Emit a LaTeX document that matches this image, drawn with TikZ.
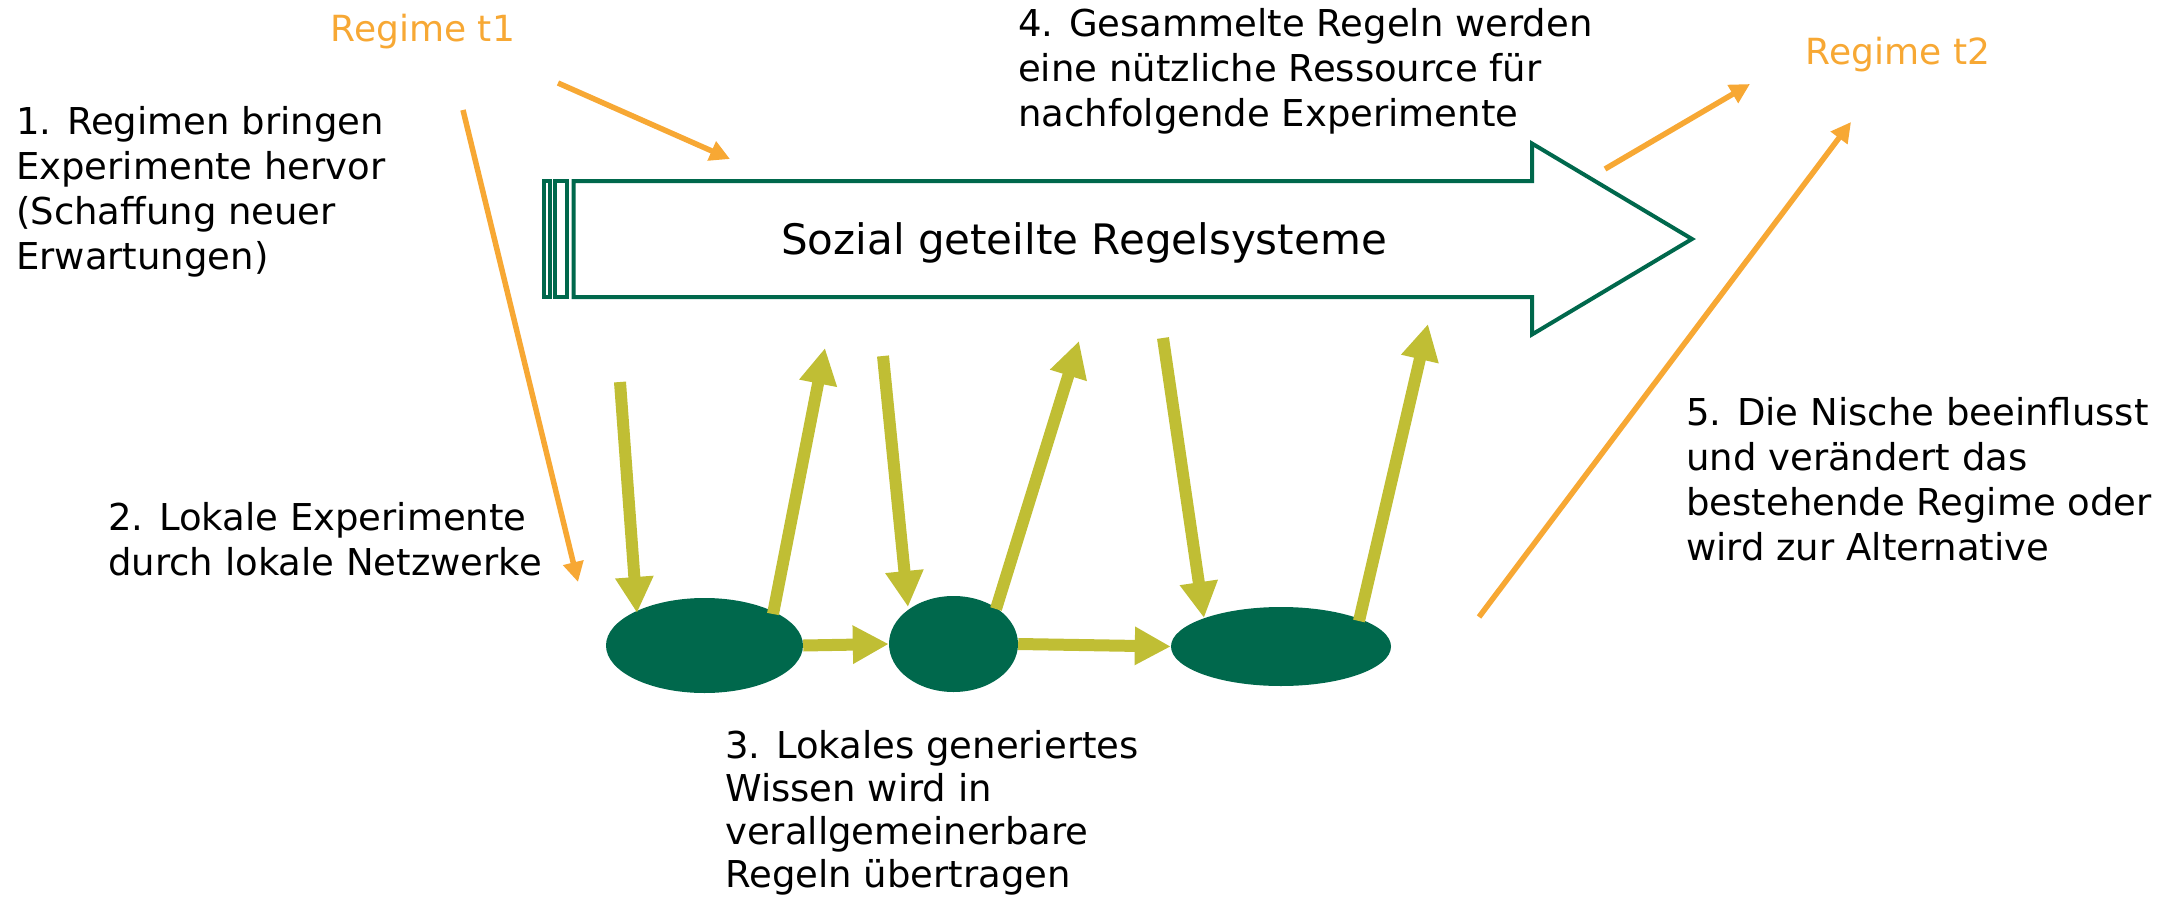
\documentclass[tikz,border=0pt]{standalone}
\usepackage{fontspec}
\setmainfont{DejaVu Sans}
\usetikzlibrary{arrows.meta,shapes.geometric}
\definecolor{dkgreen}{RGB}{0,104,76}
\definecolor{olive}{RGB}{192,190,52}
\definecolor{orng}{RGB}{247,168,52}
\tikzset{
  lbl/.style={anchor=north west,inner sep=0pt,align=left,font=\fontsize{37}{45}\selectfont,text=black},
  rlbl/.style={inner sep=0pt,font=\fontsize{36}{44}\selectfont,text=orng},
  blob/.style={ellipse,fill=dkgreen,draw=none,inner sep=0pt},
  oarr/.style={draw=orng,line width=5.5pt,-{Triangle[length=20pt,width=20pt]}},
  garr/.style={draw=olive,line width=12pt,-{Triangle[length=36pt,width=36pt]},shorten >=0pt},
  bigout/.style={draw=dkgreen,line width=4pt,line join=miter}
}
\begin{document}
\begin{tikzpicture}[x=1pt,y=-1pt]
\useasboundingbox (0,0) rectangle (2164,902);
% big arrow
\draw[bigout] (573.7,181) -- (1532,181) -- (1532,143.5) -- (1692,239) -- (1532,334.5) -- (1532,297) -- (573.7,297) -- cycle;
\draw[bigout] (543.7,181) rectangle (549.7,297);
\draw[bigout] (555.3,181) rectangle (567.3,297);
\node[inner sep=0pt,font=\fontsize{42}{50}\selectfont] (big) at (1084,243) {Sozial geteilte Regelsysteme};
% ellipses
\node[blob,minimum width=197pt,minimum height=95pt] (e1) at (704.5,645.5) {};
\node[blob,minimum width=129pt,minimum height=96pt] (e2) at (953.5,644) {};
\node[blob,minimum width=220pt,minimum height=79pt] (e3) at (1281,646.5) {};
% texts
\node[rlbl] (t1) at (423,32) {Regime t1};
\node[rlbl] (t2) at (1898,55) {Regime t2};
\node[lbl] (l1) at (16,106) {1. Regimen bringen\\Experimente hervor\\(Schaffung neuer\\Erwartungen)};
\node[lbl] (l2) at (108,502) {2. Lokale Experimente\\durch lokale Netzwerke};
\node[lbl,font=\fontsize{37}{43}\selectfont] (l3) at (725,730) {3. Lokales generiertes\\Wissen wird in\\verallgemeinerbare\\Regeln übertragen};
\node[lbl] (l4) at (1018,8) {4. Gesammelte Regeln werden\\eine nützliche Ressource für\\nachfolgende Experimente};
\node[lbl] (l5) at (1686,397) {5. Die Nische beeinflusst\\und verändert das\\bestehende Regime oder\\wird zur Alternative};
% coordinates
\coordinate (oa1) at (463,110);  \coordinate (oa2) at (578,582);
\coordinate (ob1) at (558,83);   \coordinate (ob2) at (730,159);
\coordinate (oc1) at (1605,169); \coordinate (oc2) at (1750,84);
\coordinate (od1) at (1479,617); \coordinate (od2) at (1851,122);
\coordinate (d1a) at (620,382);  \coordinate (d1b) at (637,613);
\coordinate (d2a) at (883,356);  \coordinate (d2b) at (908,607);
\coordinate (d3a) at (1163,338); \coordinate (d3b) at (1204,618);
\coordinate (u1a) at (773,614);  \coordinate (u1b) at (825,348);
\coordinate (u2a) at (996,609);  \coordinate (u2b) at (1079,341);
\coordinate (u3a) at (1359,621); \coordinate (u3b) at (1428,324);
% orange arrows
\draw[oarr] (oa1) -- (oa2);
\draw[oarr] (ob1) -- (ob2);
\draw[oarr] (oc1) -- (oc2);
\draw[oarr] (od1) -- (od2);
% olive arrows
\draw[garr] (d1a) -- (d1b);
\draw[garr] (d2a) -- (d2b);
\draw[garr] (d3a) -- (d3b);
\draw[garr] (u1a) -- (u1b);
\draw[garr] (u2a) -- (u2b);
\draw[garr] (u3a) -- (u3b);
\draw[garr] (e1.east) -- (e2.west);
\draw[garr] (e2.east) -- (e3.west);
\end{tikzpicture}
\end{document}
